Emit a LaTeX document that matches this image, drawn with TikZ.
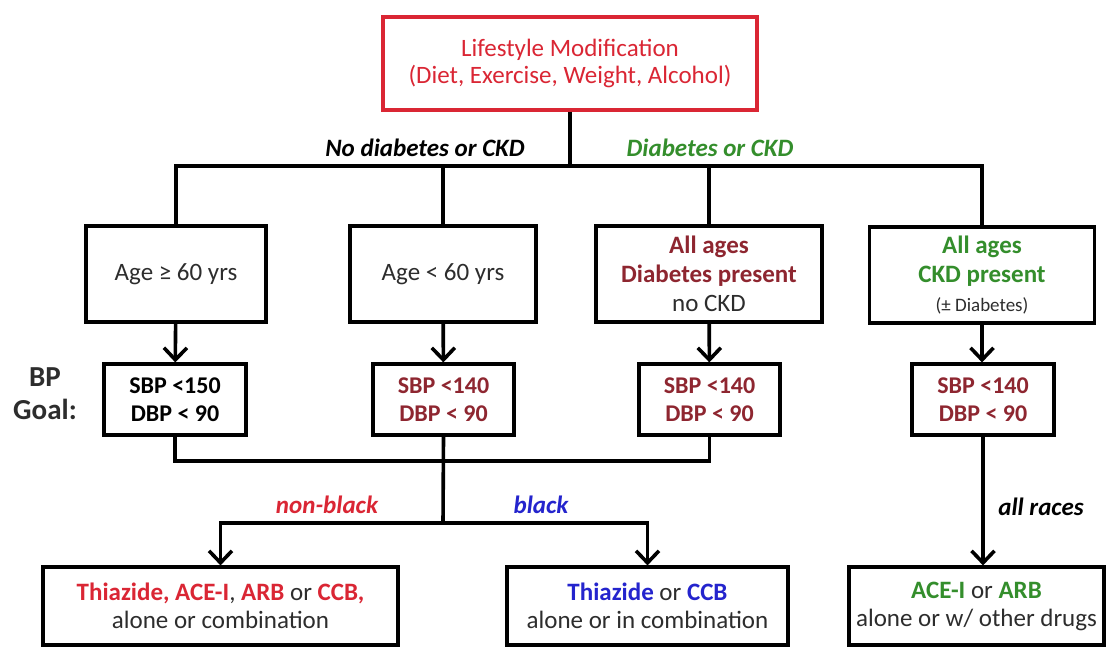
\documentclass[tikz,border=0pt]{standalone}
\usepackage{fontspec}
\setmainfont{Carlito}
\usetikzlibrary{arrows.meta}
\definecolor{lsred}{RGB}{218,38,52}
\definecolor{goalred}{RGB}{142,38,48}
\definecolor{ckdgreen}{RGB}{52,142,44}
\definecolor{raceblue}{RGB}{36,36,205}
\definecolor{txtgray}{RGB}{45,45,45}
\begin{document}
\begin{tikzpicture}[x=1pt,y=-1pt,
	box/.style={draw=black,line width=3.2pt,align=center,inner sep=0pt,
		minimum height=96pt,text=txtgray,font=\fontsize{25}{29}\selectfont},
	goalbox/.style={box,minimum height=71pt,font=\bfseries\fontsize{24}{28}\selectfont},
	drugbox/.style={box,minimum height=78pt,font=\fontsize{25}{28}\selectfont},
	wire/.style={line width=3.6pt,black},
	arr/.style={wire,-{Straight Barb[length=12pt,width=23pt]}},
	lbl/.style={font=\bfseries\itshape\fontsize{25}{28}\selectfont}]
	
	\useasboundingbox[fill=white] (0,0) rectangle (1107,648);
	
	\node[box,draw=lsred,text=lsred,minimum width=374pt,minimum height=93pt,
	font=\fontsize{25}{27}\selectfont] (life) at (570,63.5)
	{Lifestyle Modification\\(Diet, Exercise, Weight, Alcohol)};
	
	\node[box,minimum width=180pt] (old) at (176,274) {Age ≥ 60 yrs};
	\node[box,minimum width=186pt] (young) at (443,274) {Age < 60 yrs};
	\node[box,minimum width=226pt] (diab) at (709,274)
	{\textbf{\color{goalred}All ages}\\\textbf{\color{goalred}Diabetes present}\\no CKD};
	\node[box,minimum width=225pt] (ckd) at (982,275)
	{\textbf{\color{ckdgreen}All ages}\\\textbf{\color{ckdgreen}CKD present}\\{\fontsize{19}{29}\selectfont(± Diabetes)}};
	
	\node[goalbox,text=black,minimum width=142pt] (goalold) at (175,399.5) {SBP <150\\DBP < 90};
	\node[goalbox,text=goalred,minimum width=141pt] (goalyoung) at (443.5,399.5) {SBP <140\\DBP < 90};
	\node[goalbox,text=goalred,minimum width=141pt] (goaldiab) at (709.5,399.5) {SBP <140\\DBP < 90};
	\node[goalbox,text=goalred,minimum width=142pt] (goalckd) at (983,399.5) {SBP <140\\DBP < 90};
	\node[align=center,text=txtgray,font=\bfseries\fontsize{29}{33}\selectfont] (bpgoal) at (45,394) {BP\\Goal:};
	
	\node[drugbox,minimum width=355pt] (nonblk) at (220.5,606)
	{{\bfseries\color{lsred}Thiazide,} {\bfseries\color{lsred}ACE-I}, {\bfseries\color{lsred}ARB} or {\bfseries\color{lsred}CCB,}\\alone or combination};
	\node[drugbox,minimum width=281pt] (blk) at (647.5,606)
	{{\bfseries\color{raceblue}Thiazide} or {\bfseries\color{raceblue}CCB}\\alone or in combination};
	\node[drugbox,minimum width=255pt] (allr) at (976.5,606)
	{{\bfseries\color{ckdgreen}ACE-I} or {\bfseries\color{ckdgreen}ARB}\\alone or w/ other drugs};
	
	\coordinate (split) at (570,166);
	\coordinate (merge) at (443,461);
	\coordinate (fork) at (443,523);
	
	\draw[wire] (life.south) -- (split);
	\draw[wire] (old.north) -- (old.north |- split) -- (ckd.north |- split) -- (ckd.north);
	\draw[wire] (young.north |- split) -- (young.north);
	\draw[wire] (diab.north |- split) -- (diab.north);
	
	\draw[arr] (old) -- (goalold);
	\draw[arr] (young) -- (goalyoung);
	\draw[arr] (diab) -- (goaldiab);
	\draw[arr] (ckd.south) -- (ckd.south |- goalckd.north);
	
	\draw[wire] (goalold.south) -- (goalold.south |- merge) -- (goaldiab.south |- merge) -- (goaldiab.south);
	\draw[wire] (goalyoung.south) -- (fork);
	\draw[arr] (fork) -- (nonblk.north |- fork) -- (nonblk.north);
	\draw[arr] (fork) -- (blk.north |- fork) -- (blk.north);
	\draw[arr] (goalckd.south) -- (goalckd.south |- allr.north);
	
	\node[lbl,text=black] (nodiab) at (425,148) {No diabetes or CKD};
	\node[lbl,text=ckdgreen] (yesdiab) at (710,148) {Diabetes or CKD};
	\node[lbl,text=lsred] (nonblklbl) at (327,505) {non-black};
	\node[lbl,text=raceblue] (blklbl) at (541,505) {black};
	\node[lbl,text=black] (allrlbl) at (1041,507) {all races};
	
\end{tikzpicture}
\end{document}
